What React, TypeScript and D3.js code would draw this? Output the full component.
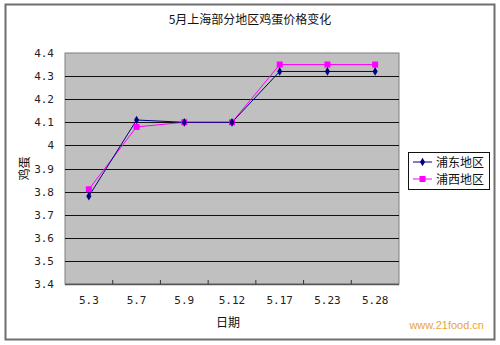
import React from "react";
import * as d3 from "d3";

const categories = ["5.3", "5.7", "5.9", "5.12", "5.17", "5.23", "5.28"];
const pudong = [3.78, 4.11, 4.10, 4.10, 4.32, 4.32, 4.32];
const puxi = [3.81, 4.08, 4.10, 4.10, 4.35, 4.35, 4.35];
const seriesNames = ["浦东地区", "浦西地区"];
const yTicks = [3.4, 3.5, 3.6, 3.7, 3.8, 3.9, 4, 4.1, 4.2, 4.3, 4.4];

const W = 500, H = 345;
const plot = { left: 65, right: 399, top: 53, bottom: 284 };

export default function App() {
  const x = d3.scaleBand<string>().domain(categories).range([plot.left, plot.right]);
  const y = d3.scaleLinear().domain([3.4, 4.4]).range([plot.bottom, plot.top]);
  const cx = (c: string) => (x(c) as number) + x.bandwidth() / 2;
  const line = d3.line<number>().x((_, i) => cx(categories[i])).y((v) => y(v));
  const mono = "'DejaVu Sans Mono', 'Liberation Mono', monospace";
  const cjk = "'Noto Sans CJK SC', sans-serif";
  const diamond = d3.symbol().type(d3.symbolDiamond).size(22)();
  return (
    <svg width={W} height={H} style={{ position: "absolute", left: 0, top: 0, background: "#fff" }}>
      <rect x={0} y={0} width={W} height={H} fill="#fff" />
      <rect x={5.5} y={4.5} width={489} height={335} fill="#fff" stroke="#6e6e6e" strokeWidth={2} />
      <text x={250} y={24} textAnchor="middle" fontFamily={cjk} fontSize={12} fill="#111">5月上海部分地区鸡蛋价格变化</text>
      <rect x={plot.left} y={plot.top} width={plot.right - plot.left} height={plot.bottom - plot.top} fill="#c0c0c0" stroke="#808080" strokeWidth={1} />
      {yTicks.slice(1, -1).map((t) => (
        <line key={t} x1={plot.left} x2={plot.right} y1={Math.round(y(t)) + 0.5} y2={Math.round(y(t)) + 0.5} stroke="#111" strokeWidth={1} />
      ))}
      <line x1={plot.left} x2={plot.right} y1={plot.bottom + 0.5} y2={plot.bottom + 0.5} stroke="#555" strokeWidth={1.5} />
      {categories.slice(1).map((c) => (
        <line key={c} x1={(x(c) as number)} x2={(x(c) as number)} y1={plot.bottom} y2={plot.bottom - 4} stroke="#333" />
      ))}
      {yTicks.map((t) => (
        <text key={t} x={54} y={y(t) + 4} textAnchor="end" fontFamily={mono} fontSize={11} fill="#222">{String(t)}</text>
      ))}
      {categories.map((c) => (
        <text key={c} x={cx(c)} y={304} textAnchor="middle" fontFamily={mono} fontSize={11} fill="#222">{c}</text>
      ))}
      <text x={228} y={327} textAnchor="middle" fontFamily={cjk} fontSize={12} fill="#111">日期</text>
      <text transform={`translate(26,${(plot.top + plot.bottom) / 2}) rotate(-90)`} textAnchor="middle" dominantBaseline="middle" fontFamily={cjk} fontSize={12} fill="#111">鸡蛋</text>
      <path d={line(puxi) || ""} fill="none" stroke="#ff00ff" strokeWidth={1} />
      <path d={line(pudong) || ""} fill="none" stroke="#000080" strokeWidth={1} />
      {puxi.map((v, i) => (
        <rect key={"s" + i} x={cx(categories[i]) - 3} y={y(v) - 3} width={6} height={6} fill="#ff00ff" />
      ))}
      {pudong.map((v, i) => (
        <path key={"d" + i} d={diamond || ""} transform={`translate(${cx(categories[i])},${y(v)})`} fill="#000080" />
      ))}
      <rect x={408.5} y={152.5} width={81} height={37} fill="#fff" stroke="#111" strokeWidth={1} />
      <line x1={413} x2={432} y1={162} y2={162} stroke="#000080" />
      <path d={diamond || ""} transform="translate(422.5,162)" fill="#000080" />
      <text x={436} y={166.5} fontFamily={cjk} fontSize={12} fill="#111">{seriesNames[0]}</text>
      <line x1={413} x2={432} y1={179} y2={179} stroke="#ff00ff" />
      <rect x={419.5} y={176} width={6} height={6} fill="#ff00ff" />
      <text x={436} y={183.5} fontFamily={cjk} fontSize={12} fill="#111">{seriesNames[1]}</text>
      <text x={484} y={329} textAnchor="end" fontFamily="'Liberation Sans', Arial, sans-serif" fontSize={11} fill="#e8a53a">www.21food.cn</text>
    </svg>
  );
}
